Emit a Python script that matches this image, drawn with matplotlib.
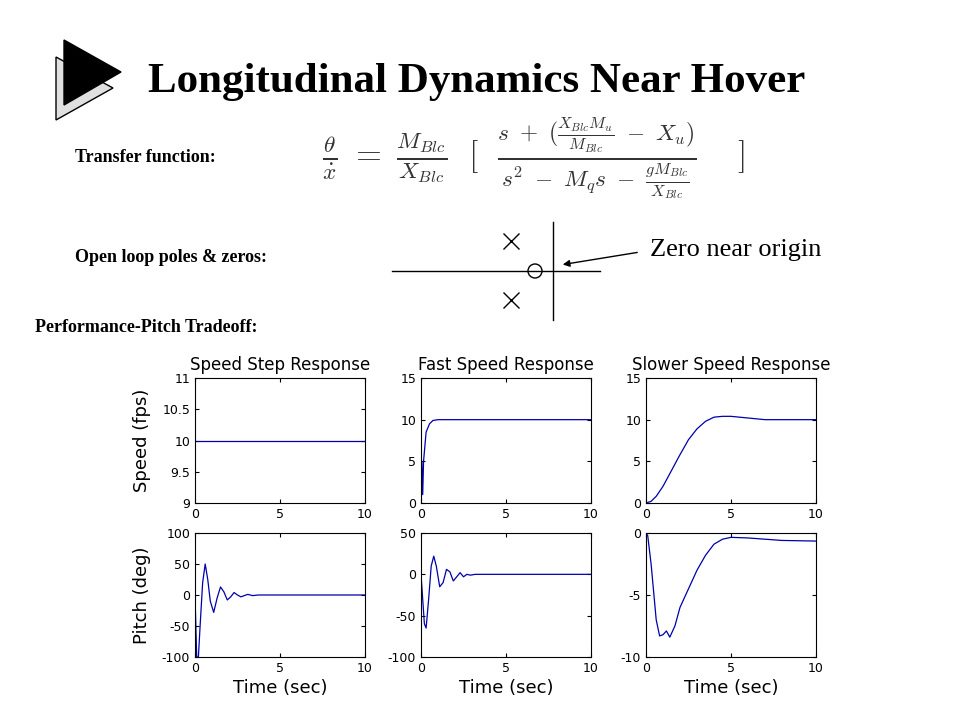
import matplotlib.pyplot as plt
from matplotlib.patches import Polygon, Circle

plt.rcParams["mathtext.fontset"] = "cm"

# response data
t_step = [0, 10]
v_step = [10, 10]

t_fast = [0, 0.05, 0.1, 0.15, 0.3, 0.5, 0.7, 1.0, 1.3, 10]
v_fast = [0, 5, 1, 5, 8.5, 9.5, 9.9, 10, 10, 10]

t_slow = [0, 0.3, 0.6, 1, 1.5, 2, 2.5, 3, 3.5, 4, 4.5, 5, 6, 7, 10]
v_slow = [0, 0.2, 0.8, 2, 3.9, 5.8, 7.6, 8.9, 9.8, 10.3, 10.4, 10.4, 10.2, 10, 10]

t_p1 = [0, 0.1, 0.2, 0.3, 0.45, 0.6, 0.75, 0.9, 1.1, 1.3, 1.5, 1.7, 1.9, 2.1, 2.3,
        2.5, 2.7, 2.9, 3.1, 3.4, 3.7, 4, 10]
p_p1 = [0, -100, -100, -50, 20, 50, 25, -10, -28, -5, 13, 5, -8, -3, 4,
        0, -3, -1, 1, -1, 0, 0, 0]

t_p2 = [0, 0.1, 0.2, 0.3, 0.45, 0.6, 0.75, 0.9, 1.1, 1.3, 1.5, 1.7, 1.9, 2.1,
        2.3, 2.5, 2.7, 2.9, 3.2, 3.5, 10]
p_p2 = [0, -30, -60, -65, -30, 10, 22, 10, -15, -10, 6, 3, -8, -3,
        2, -3, 0, -1, 0, 0, 0]

t_p3 = [0, 0.1, 0.3, 0.6, 0.8, 1, 1.2, 1.4, 1.7, 2, 2.5, 3, 3.5, 4, 4.5, 5,
        6, 7, 8, 10]
p_p3 = [0, -0.2, -2.5, -7, -8.3, -8.2, -7.9, -8.4, -7.5, -6, -4.5, -3, -1.8,
        -0.9, -0.5, -0.35, -0.4, -0.5, -0.6, -0.65]

titles = ["Speed Step Response", "Fast Speed Response", "Slower Speed Response"]
top = [(t_step, v_step, (9, 11), [9, 9.5, 10, 10.5, 11]),
       (t_fast, v_fast, (0, 15), [0, 5, 10, 15]),
       (t_slow, v_slow, (0, 15), [0, 5, 10, 15])]
bottom = [(t_p1, p_p1, (-100, 100), [-100, -50, 0, 50, 100]),
          (t_p2, p_p2, (-100, 50), [-100, -50, 0, 50]),
          (t_p3, p_p3, (-10, 0), [-10, -5, 0])]

W, H = 960, 720
fig = plt.figure(figsize=(9.6, 7.2), dpi=100)

# slide overlay in pixel coords
ov = fig.add_axes([0, 0, 1, 1])
ov.set_xlim(0, W)
ov.set_ylim(H, 0)
ov.axis("off")

ov.add_patch(Polygon([(56, 57), (56, 120), (113, 88)], closed=True,
                     facecolor="#e0e0e0", edgecolor="black", lw=1))
ov.add_patch(Polygon([(64, 40), (64, 105), (121, 72)], closed=True,
                     facecolor="black", edgecolor="black"))

serif = "Liberation Serif"
ov.text(148, 82, "Longitudinal Dynamics Near Hover", fontsize=31, family=serif,
        fontweight="bold", va="center")
ov.text(75, 158, "Transfer function:", fontsize=13, family=serif,
        fontweight="bold", va="center")
ov.text(75, 257, "Open loop poles & zeros:", fontsize=13, family=serif,
        fontweight="bold", va="center")
ov.text(35, 327, "Performance-Pitch Tradeoff:", fontsize=13, family=serif,
        fontweight="bold", va="center")

eq = (r"$\frac{\theta}{\dot{x}}\ =\ \frac{M_{Blc}}{X_{Blc}}\ \ [\ \ "
      r"\frac{s\ +\ (\frac{X_{Blc}M_u}{M_{Blc}}\ -\ X_u)}"
      r"{s^2\ -\ M_q s\ -\ \frac{gM_{Blc}}{X_{Blc}}}\ \ \ \ ]$")
ov.text(322, 158, eq, fontsize=24, va="center", color="#333333")

# pole-zero sketch
ov.plot([392, 600], [271, 271], color="black", lw=1)
ov.plot([553, 553], [222, 320], color="black", lw=1)
ov.plot([511], [241], marker="x", ms=11, color="black", mew=1)
ov.plot([511], [300], marker="x", ms=11, color="black", mew=1)
ov.add_patch(Circle((535, 271), 7, fill=False, edgecolor="black", lw=1))
ov.annotate("", xy=(560, 265), xytext=(640, 252),
            arrowprops=dict(arrowstyle="-|>", color="black", lw=1))
ov.text(650, 250, "Zero near origin", fontsize=19, family=serif, va="center")

lefts = [195, 421, 646]
aw = 170
for i in range(3):
    for row, spec in enumerate([top[i], bottom[i]]):
        t, y, ylim, yt = spec
        ytop = 378 if row == 0 else 533
        ybot = 503 if row == 0 else 657
        ax = fig.add_axes([lefts[i] / W, 1 - ybot / H, aw / W, (ybot - ytop) / H])
        ax.plot(t, y, color="#0000aa", lw=0.9)
        ax.set_xlim(0, 10)
        ax.set_ylim(*ylim)
        ax.set_xticks([0, 5, 10])
        ax.set_yticks(yt)
        ax.set_yticklabels([f"{v:g}" for v in yt])
        ax.tick_params(labelsize=9, direction="in", length=3, top=True, right=True,
                       labeltop=False, labelright=False)
        if row == 0:
            ax.set_title(titles[i], fontsize=12, pad=6)
        else:
            ax.set_xlabel("Time (sec)", fontsize=13, labelpad=3)
        if i == 0:
            ax.set_ylabel("Speed (fps)" if row == 0 else "Pitch (deg)",
                          fontsize=13, labelpad=8)

fig.savefig("out.png", dpi=100)
